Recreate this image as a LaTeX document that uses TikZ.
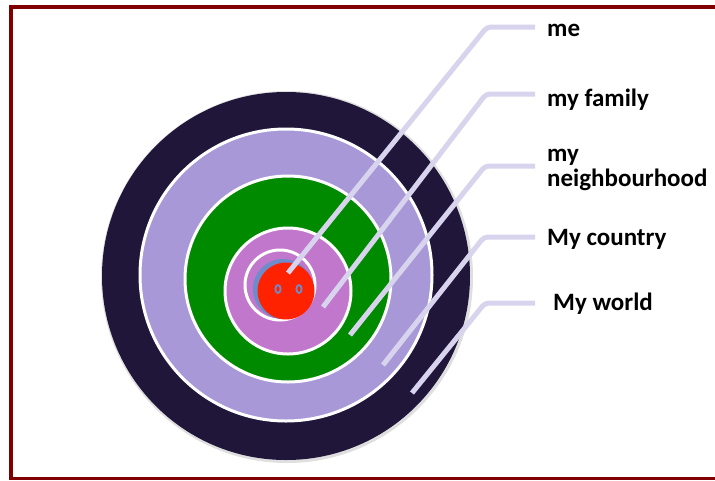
\documentclass[tikz,border=0pt]{standalone}
\usepackage{fontspec}
\setmainfont{Carlito}
\definecolor{frame}{HTML}{800000}
\definecolor{navy}{HTML}{20163A}
\definecolor{lpurple}{HTML}{A898D8}
\definecolor{grn}{HTML}{008A00}
\definecolor{orchid}{HTML}{C077CC}
\definecolor{redc}{HTML}{FF2200}
\definecolor{lav}{HTML}{D8D4EE}
\definecolor{blueedge}{HTML}{6E8CCC}
\begin{document}
\begin{tikzpicture}[x=1pt,y=-1pt,
  ring/.style={draw=white,line width=3pt},
  lbl/.style={anchor=west,font=\fontsize{25}{25}\selectfont\bfseries,inner sep=0pt,align=left},
  conn/.style={draw=lav,line width=5pt,rounded corners=4pt},
  eye/.style={draw=blueedge,line width=1.8pt}]
\useasboundingbox (0,0) rectangle (715,480);
% frame
\fill[frame] (9,5) rectangle (715,9);
\fill[frame] (9,5) rectangle (13,480);
\fill[frame] (9,477) rectangle (715,480);
% target
\fill[gray!25] (287,277) circle (186);
\fill[navy] (286,276) circle (184);
\filldraw[fill=lpurple,ring] (286,275) circle (146);
\filldraw[fill=grn,ring] (288,279) circle (103);
\filldraw[fill=orchid,ring] (288,291) circle (63);
\filldraw[fill=orchid,ring] (280,285) circle (35);
\fill[blueedge] (283,289) circle (30);
\fill[redc] (286,291) circle (28.5);
\draw[eye] (278,289) ellipse (2.6 and 4);
\draw[eye] (299,289) ellipse (2.6 and 4);
% labels
\node[lbl] (me) at (547,30) {me};
\node[lbl] (fam) at (547,100) {my family};
\node[lbl] (nb) at (547,170) {my\\neighbourhood};
\node[lbl] (ctry) at (547,239) {My country};
\node[lbl] (wld) at (553,304) {My world};
% connector points
\coordinate (meE) at (288,273);
\coordinate (famE) at (323,307);
\coordinate (nbE) at (350,335);
\coordinate (ctryE) at (383,365);
\coordinate (wldE) at (412,393);
\coordinate (meH) at (535,27);
\coordinate (famH) at (535,94);
\coordinate (nbH) at (535,166);
\coordinate (ctryH) at (535,237);
\coordinate (wldH) at (535,303);
\draw[conn] (meH) -- (487,27) -- (meE);
\draw[conn] (famH) -- (486,94) -- (famE);
\draw[conn] (nbH) -- (485,166) -- (nbE);
\draw[conn] (ctryH) -- (484,237) -- (ctryE);
\draw[conn] (wldH) -- (485,303) -- (wldE);
\end{tikzpicture}
\end{document}
